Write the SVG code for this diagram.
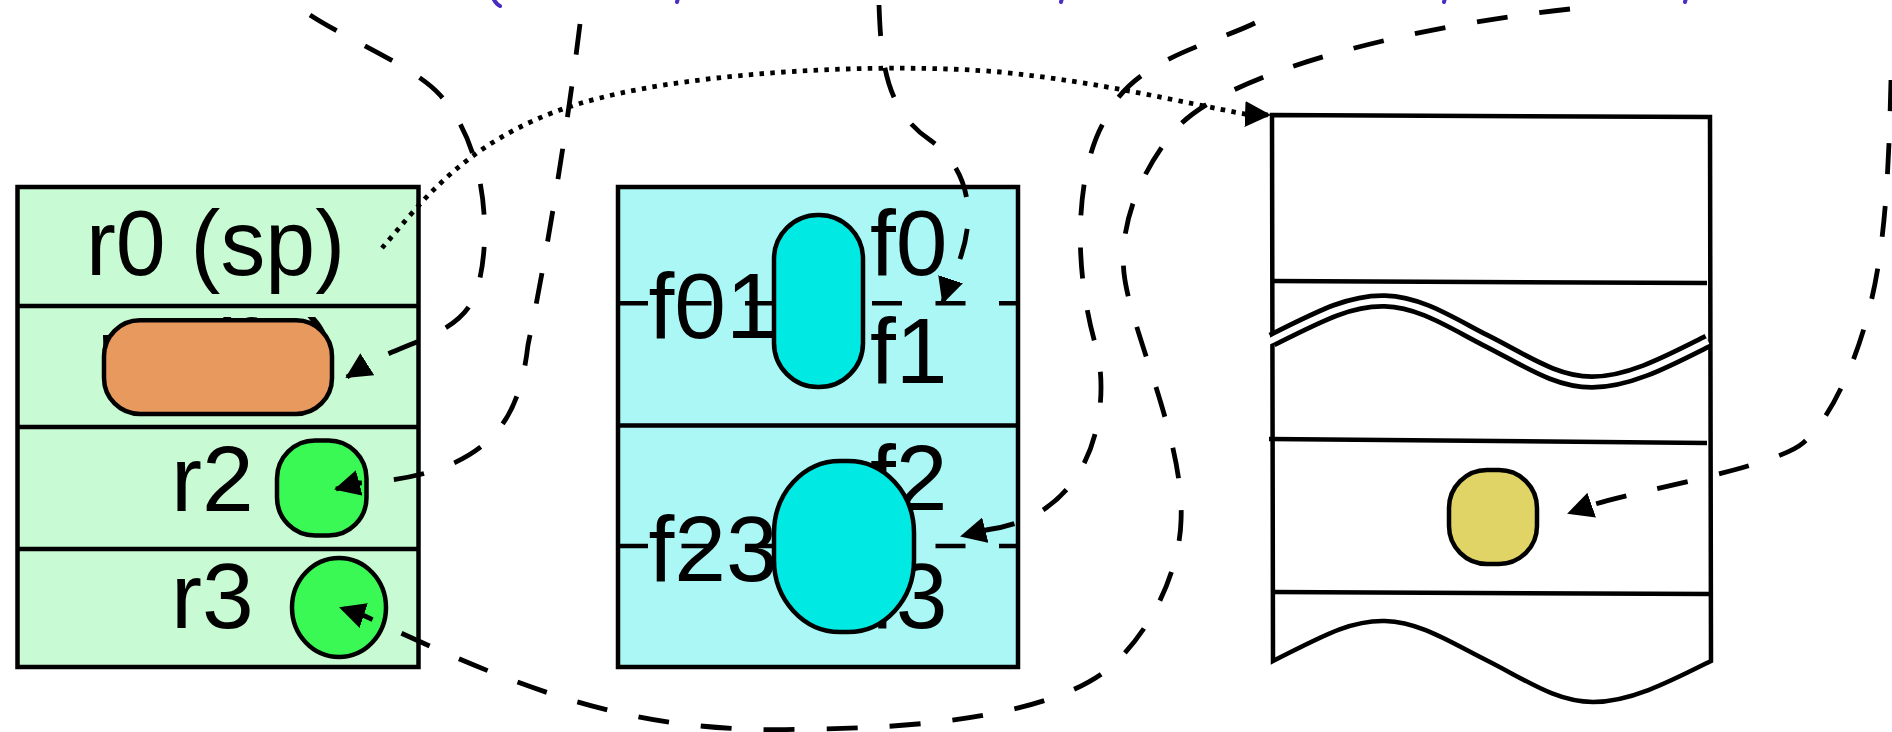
<svg xmlns="http://www.w3.org/2000/svg" width="1892" height="732" viewBox="0 0 1892 732">
<defs>
<style>
.box{stroke:#000;stroke-width:4.5}
.ln{fill:none;stroke:#000;stroke-width:4.5}
.lbl{font-family:"Liberation Sans",Arial,sans-serif;font-size:93px;fill:#000}
.cd{fill:none;stroke:#000;stroke-width:4.8;stroke-dasharray:31 32;marker-end:url(#ah)}
.dot{fill:none;stroke:#000;stroke-width:4.8;stroke-dasharray:4.5 6.3;marker-end:url(#ah)}
.mid{fill:none;stroke:#000;stroke-width:4.5;stroke-dasharray:30 33.5}
.shape{stroke:#000;stroke-width:4.5}
.pm{fill:none;stroke:#4a2cc0;stroke-width:4;stroke-linecap:round}
</style>
<marker id="ah" viewBox="0 0 26 26" refX="24" refY="13" markerWidth="26" markerHeight="26" markerUnits="userSpaceOnUse" orient="auto"><path d="M0,0 L26,13 L0,26 Z" fill="#000"/></marker>
</defs>
<rect width="1892" height="732" fill="#fff"/>

<g id="purple-marks">
<path class="pm" d="M493,-2 Q496,4 500,6"/>
<path class="pm" d="M678,-2 L677,2"/>
<path class="pm" d="M1062,-2 L1061,2"/>
<path class="pm" d="M1445,-2 L1444,2"/>
<path class="pm" d="M1686,-2 L1685,2"/>
</g>

<g id="int-registers">
<rect class="box" x="17.5" y="187" width="401" height="480" fill="#c8fad3"/>
<path class="ln" d="M17.5,306 H418.5 M17.5,427 H418.5 M17.5,549 H418.5"/>
<text class="lbl" x="215.5" y="275" text-anchor="middle" textLength="259" lengthAdjust="spacingAndGlyphs">r0 (sp)</text>
<text class="lbl" x="217" y="384" text-anchor="middle" textLength="240" lengthAdjust="spacingAndGlyphs">r1 (fp)</text>
<text class="lbl" x="171" y="511">r2</text>
<text class="lbl" x="171" y="628">r3</text>
</g>
<g id="r1-value"><rect class="shape" x="104" y="320.3" width="228" height="93.7" rx="36" fill="#e8995e"/></g>
<g id="r2-value"><rect class="shape" x="277" y="440.5" width="89.5" height="95" rx="38" fill="#3bf955"/></g>
<g id="r3-value"><ellipse class="shape" cx="339" cy="607.5" rx="47" ry="49.5" fill="#3bf955"/></g>

<g id="fp-registers">
<rect class="box" x="618" y="187" width="400" height="480" fill="#aaf7f5"/>
<path class="ln" d="M618,425.5 H1018"/>
<text class="lbl" x="648.5" y="338">f01</text>
<text class="lbl" x="870" y="275">f0</text>
<text class="lbl" x="870" y="383">f1</text>
<text class="lbl" x="648.5" y="581">f23</text>
<text class="lbl" x="870" y="510">f2</text>
<text class="lbl" x="870" y="628">f3</text>
<path class="mid" d="M618,303.3 H1018 M618,546 H1018"/>
</g>
<g id="f01-value"><rect class="shape" x="774" y="215" width="89" height="172" rx="44" ry="44" fill="#00e9e3"/></g>
<g id="f23-value"><rect class="shape" x="774" y="461" width="140" height="171" rx="66" ry="72" fill="#00e9e3"/></g>

<g id="stack">
<path class="ln" fill="#fff" d="M1272,115 L1710,117 L1711,661 C1671,681 1631,702 1593,702 C1556,702 1526,680 1486,660 C1450,642 1420,622 1385,621 C1350,620 1321,637 1273,661 Z"/>
<path class="ln" d="M1271,281 L1707,283 M1269,439 L1707,443 M1273,592 L1711,594"/>
<path fill="none" stroke="#000" stroke-width="15.5" d="M1272,340 C1320,316 1350,300 1385,301 C1420,302 1450,322 1485,340 C1525,360 1555,382 1592,382 C1630,382 1670,360 1708,341"/>
<path fill="none" stroke="#fff" stroke-width="6" d="M1268,342 C1320,316 1350,300 1385,301 C1420,302 1450,322 1485,340 C1525,360 1555,382 1592,382 C1630,382 1670,360 1708,341"/>
</g>
<g id="stack-value"><rect class="shape" x="1449" y="470" width="88" height="94" rx="38" fill="#e0d466"/></g>

<g id="connectors">
<path class="dot" d="M382,248 C420,205 470,130 600,98 C700,72 880,62 1000,72 C1100,82 1180,102 1245,114 L1269,115"/>
<path class="cd" d="M310,15 C350,41 415,67 440,95 C490,150 492,250 475,295 C460,335 405,342 366,365 L347,377"/>
<path class="cd" d="M580,24 C572,90 552,230 528,345 C520,410 500,475 359,483 L336,489"/>
<path class="cd" d="M1570,9 C1420,25 1230,70 1177,128 C1150,158 1118,215 1124,273 C1130,330 1185,440 1181,521 C1180,560 1160,620 1115,663 C1070,706 960,728 810,729 C650,735 540,700 365,616 L341,608"/>
<path class="cd" d="M879,5 C881,60 885,110 930,140 C965,165 985,215 949,284 L943,302"/>
<path class="cd" d="M1255,23 C1210,45 1130,60 1105,120 C1078,165 1070,260 1097,350 C1109,400 1100,515 986,530 L962,536"/>
<path class="cd" d="M1891,80 C1889,160 1886,240 1871,302 C1860,350 1835,415 1803,443 C1775,467 1640,490 1592,505 L1569,513"/>
</g>
</svg>
